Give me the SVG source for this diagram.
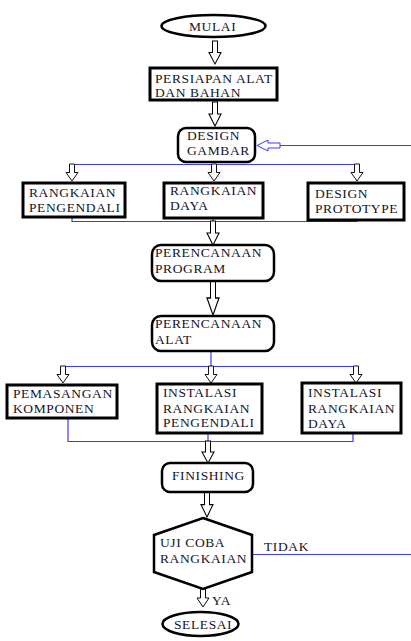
<svg xmlns="http://www.w3.org/2000/svg" width="411" height="641" viewBox="0 0 411 641">
<defs>
<style>
.t{font-family:"Liberation Serif","Times New Roman","DejaVu Serif",serif;font-size:13.5px;letter-spacing:0.6px;fill:#141428}
.box{fill:#fff;stroke:#000;stroke-width:3}
.rbox{fill:#fff;stroke:#000;stroke-width:2.5}
.ar{fill:#fff;stroke:#000;stroke-width:1}
.ln{fill:none;stroke:#3a3aff;stroke-width:1.2}
</style>
<path id="da" d="M-2.5,0 H2.5 V10 H6 L0,20 L-6,10 H-2.5 Z"/>
</defs>
<rect width="411" height="641" fill="#fff"/>

<g id="connectors">
<line class="ln" x1="280" y1="145.5" x2="411" y2="145.5"/>
<path d="M280,143 H268 V140 L257,145.5 L268,151 V148 H280 Z" fill="#fff" stroke="#3a3aff" stroke-width="1"/>
<line class="ln" x1="72" y1="164.5" x2="358" y2="164.5"/>
<polyline class="ln" points="72,217 72,221.5 357,221.5 357,220"/>
<line class="ln" x1="213" y1="218" x2="213" y2="221.5"/>
<line class="ln" x1="211" y1="351" x2="211" y2="366.5"/>
<line class="ln" x1="63" y1="366.5" x2="356" y2="366.5"/>
<polyline class="ln" points="68,418 68,441.5 353,441.5 353,433"/>
<line class="ln" x1="208" y1="433" x2="208" y2="441.5"/>
<line class="ln" x1="252" y1="554.5" x2="411" y2="554.5"/>
<use href="#da" class="ar" transform="translate(215,41) scale(1,1.15)"/>
<use href="#da" class="ar" transform="translate(215,102) scale(1,1.2)"/>
<use href="#da" class="ar" transform="translate(72,164) scale(1,0.85)"/>
<use href="#da" class="ar" transform="translate(214,164) scale(1,0.85)"/>
<use href="#da" class="ar" transform="translate(357,164) scale(1,0.85)"/>
<use href="#da" class="ar" transform="translate(213,221) scale(1,1.2)"/>
<use href="#da" class="ar" transform="translate(213,281) scale(1,1.7)"/>
<use href="#da" class="ar" transform="translate(63,366) scale(1,0.85)"/>
<use href="#da" class="ar" transform="translate(211,366) scale(1,0.85)"/>
<use href="#da" class="ar" transform="translate(356,366) scale(1,0.85)"/>
<use href="#da" class="ar" transform="translate(208,441) scale(1,1.1)"/>
<use href="#da" class="ar" transform="translate(207,492) scale(1,1.25)"/>
<use href="#da" class="ar" transform="translate(203,589) scale(1,0.9)"/>
</g>

<g id="mulai">
<ellipse cx="213.5" cy="26" rx="52" ry="11" fill="#fff" stroke="#000" stroke-width="2.5"/>
<text class="t" x="189" y="31">MULAI</text>
</g>
<g id="persiapan">
<rect class="box" x="150" y="68" width="127" height="32"/>
<text class="t" x="155" y="83">PERSIAPAN ALAT</text>
<text class="t" x="155" y="97">DAN BAHAN</text>
</g>
<g id="design-gambar">
<rect class="rbox" x="178" y="128" width="77" height="34" rx="8"/>
<text class="t" x="187" y="140">DESIGN</text>
<text class="t" x="187" y="155">GAMBAR</text>
</g>
<g id="rangkaian-pengendali">
<rect class="box" x="23" y="183" width="102" height="34"/>
<text class="t" x="29" y="197">RANGKAIAN</text>
<text class="t" x="29" y="212">PENGENDALI</text>
</g>
<g id="rangkaian-daya">
<rect class="box" x="164" y="183" width="99" height="35" stroke-width="2.5"/>
<text class="t" x="170" y="195">RANGKAIAN</text>
<text class="t" x="170" y="210">DAYA</text>
</g>
<g id="design-prototype">
<rect class="box" x="308" y="183" width="96" height="37"/>
<text class="t" x="315" y="198">DESIGN</text>
<text class="t" x="315" y="213">PROTOTYPE</text>
</g>
<g id="perencanaan-program">
<rect class="rbox" x="152" y="245" width="122" height="36" rx="9"/>
<text class="t" x="155" y="257">PERENCANAAN</text>
<text class="t" x="155" y="273">PROGRAM</text>
</g>
<g id="perencanaan-alat">
<rect class="rbox" x="152" y="316" width="122" height="35" rx="9"/>
<text class="t" x="155" y="328">PERENCANAAN</text>
<text class="t" x="155" y="344">ALAT</text>
</g>
<g id="pemasangan-komponen">
<rect class="box" x="7" y="385" width="110" height="33"/>
<text class="t" x="13" y="398">PEMASANGAN</text>
<text class="t" x="13" y="413">KOMPONEN</text>
</g>
<g id="instalasi-pengendali">
<rect class="box" x="157" y="384" width="105" height="49"/>
<text class="t" x="163" y="397">INSTALASI</text>
<text class="t" x="163" y="413">RANGKAIAN</text>
<text class="t" x="163" y="427">PENGENDALI</text>
</g>
<g id="instalasi-daya">
<rect class="box" x="302" y="383" width="99" height="50"/>
<text class="t" x="308" y="397">INSTALASI</text>
<text class="t" x="308" y="413">RANGKAIAN</text>
<text class="t" x="308" y="428">DAYA</text>
</g>
<g id="finishing">
<rect class="rbox" x="162" y="463" width="91" height="29" rx="8"/>
<text class="t" x="172" y="480">FINISHING</text>
</g>
<g id="uji-coba">
<polygon points="203,518 252,535 252,572 203,589 154,572 154,535" fill="#fff" stroke="#000" stroke-width="2.5"/>
<text class="t" x="160" y="547">UJI COBA</text>
<text class="t" x="160" y="563">RANGKAIAN</text>
</g>
<text class="t" x="264" y="551">TIDAK</text>
<text class="t" x="212" y="605">YA</text>
<g id="selesai">
<ellipse cx="200.5" cy="624" rx="38" ry="12" fill="#fff" stroke="#000" stroke-width="2.5"/>
<text class="t" x="174" y="629" letter-spacing="0">SELESAI</text>
</g>
</svg>
